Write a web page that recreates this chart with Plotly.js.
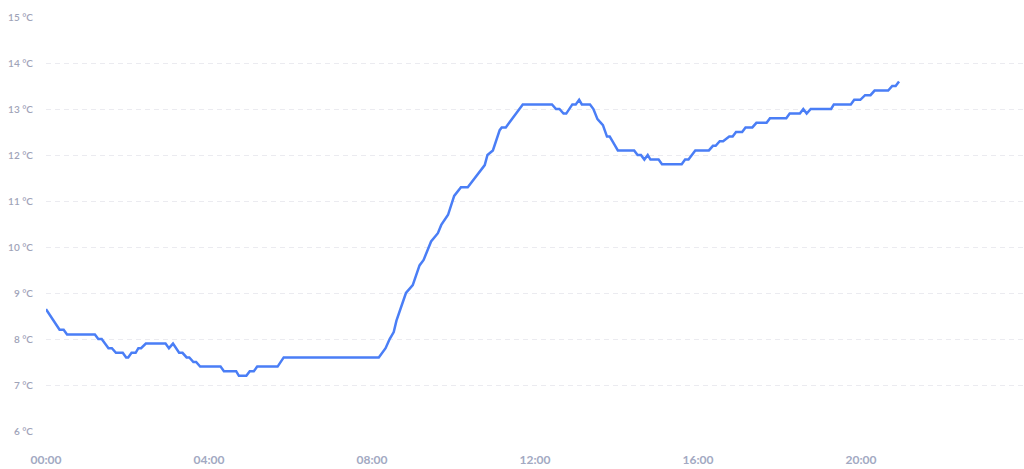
<!DOCTYPE html>
<html>
<head>
<meta charset="utf-8">
<script src="https://cdn.plot.ly/plotly-3.0.1.min.js"></script>
<style>
html,body{margin:0;padding:0;background:#fff;}
#chart{width:1024px;height:469px;}
</style>
</head>
<body>
<div id="chart"></div>
<script>
const day = "2024-01-01";
const times = ["00:00","00:20","00:26","00:31","01:12","01:17","01:22","01:32","01:37","01:43","01:53","01:58","02:01","02:06","02:12","02:16","02:20","02:27","02:56","03:01","03:07","03:16","03:21","03:27","03:31","03:37","03:41","03:47","04:17","04:22","04:40","04:44","04:55","05:00","05:06","05:11","05:41","05:50","08:10","08:20","08:26","08:32","08:36","08:50","09:00","09:10","09:16","09:27","09:37","09:42","09:52","10:01","10:11","10:21","10:46","10:50","10:58","11:08","11:11","11:17","11:42","12:25","12:31","12:36","12:42","12:46","12:55","13:00","13:05","13:09","13:21","13:26","13:32","13:40","13:46","13:50","13:54","14:02","14:26","14:31","14:36","14:41","14:46","14:50","15:02","15:07","15:36","15:41","15:46","15:56","16:16","16:22","16:26","16:32","16:37","16:46","16:51","16:56","17:05","17:10","17:20","17:26","17:41","17:46","18:10","18:15","18:30","18:35","18:40","18:46","19:16","19:20","19:45","19:50","19:59","20:06","20:14","20:20","20:40","20:46","20:51","20:56"];
const temps = [8.65,8.2,8.2,8.1,8.1,8.0,8.0,7.8,7.8,7.7,7.7,7.6,7.6,7.7,7.7,7.8,7.8,7.9,7.9,7.8,7.9,7.7,7.7,7.6,7.6,7.5,7.5,7.4,7.4,7.3,7.3,7.2,7.2,7.3,7.3,7.4,7.4,7.6,7.6,7.8,8.0,8.15,8.4,9.0,9.17,9.6,9.72,10.12,10.3,10.48,10.7,11.11,11.3,11.3,11.78,12.0,12.1,12.54,12.6,12.6,13.1,13.1,13.0,13.0,12.9,12.9,13.1,13.1,13.2,13.1,13.1,13.0,12.78,12.65,12.4,12.4,12.3,12.1,12.1,12.0,12.0,11.9,12.0,11.9,11.9,11.8,11.8,11.9,11.9,12.1,12.1,12.2,12.2,12.3,12.3,12.4,12.4,12.5,12.5,12.6,12.6,12.7,12.7,12.8,12.8,12.9,12.9,13.0,12.9,13.0,13.0,13.1,13.1,13.2,13.2,13.3,13.3,13.4,13.4,13.5,13.5,13.6];
const yTicks = [6,7,8,9,10,11,12,13,14,15];
const xTickTimes = ["00:00","04:00","08:00","12:00","16:00","20:00"];

const trace = {
  x: times.map(t => day + " " + t),
  y: temps,
  type: "scatter",
  mode: "lines",
  line: {color: "#4a7ef6", width: 2.5},
  hoverinfo: "skip"
};

const layout = {
  width: 1024, height: 469,
  margin: {l: 46, r: 0, t: 17, b: 38},
  paper_bgcolor: "#ffffff",
  plot_bgcolor: "#ffffff",
  showlegend: false,
  font: {family: "Lato, 'Open Sans', sans-serif", color: "#a3a8bd"},
  xaxis: {
    type: "date",
    range: [day + " 00:00", "2024-01-02 00:00"],
    tickvals: xTickTimes.map(t => day + " " + t),
    ticktext: xTickTimes,
    showgrid: false,
    zeroline: false,
    showline: false,
    ticks: "outside",
    ticklen: 18,
    tickcolor: "rgba(0,0,0,0)",
    tickfont: {size: 12, color: "#a2a9c2", family: "Lato, sans-serif", weight: 700}
  },
  yaxis: {
    range: [6, 15],
    tickvals: yTicks,
    ticktext: yTicks.map(v => v + " °C"),
    showgrid: true,
    gridcolor: "#ebebf0",
    griddash: "5px,4px",
    gridwidth: 1,
    zeroline: false,
    showline: false,
    ticks: "outside",
    ticklen: 10,
    tickcolor: "rgba(0,0,0,0)",
    tickfont: {size: 10, color: "#9fa4b9", family: "Lato, sans-serif", weight: 600}
  }
};

Plotly.newPlot("chart", [trace], layout, {displayModeBar: false, staticPlot: true});
</script>
</body>
</html>
